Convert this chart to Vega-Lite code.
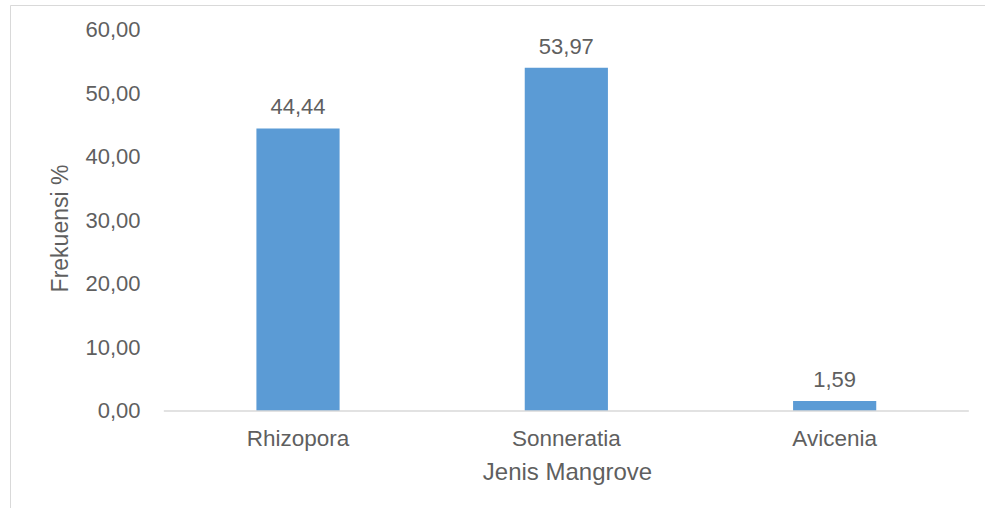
{
  "$schema": "https://vega.github.io/schema/vega-lite/v6.json",
  "width": 978,
  "height": 503,
  "padding": {"left": 10, "top": 5, "right": 0, "bottom": 0},
  "autosize": {"type": "none"},
  "background": "white",
  "config": {
    "view": {"stroke": "#d9d9d9", "strokeWidth": 1},
    "font": "Liberation Sans",
    "locale": {"number": {"decimal": ",", "thousands": ".", "grouping": [3], "currency": ["", ""]}}
  },
  "data": {
    "values": [
      {"jenis": "Rhizopora", "frekuensi": 44.44},
      {"jenis": "Sonneratia", "frekuensi": 53.97},
      {"jenis": "Avicenia", "frekuensi": 1.59}
    ]
  },
  "encoding": {
    "x": {
      "field": "jenis",
      "type": "nominal",
      "sort": null,
      "scale": {"paddingInner": 0.69, "paddingOuter": 0.6674, "align": 0.688},
      "axis": {
        "title": "Jenis Mangrove",
        "orient": "bottom",
        "offset": -97,
        "domain": false,
        "ticks": false,
        "grid": false,
        "labelAngle": 0,
        "labelFontSize": 22.5,
        "labelColor": "#5f5f5f",
        "labelPadding": 16,
        "titleFontSize": 24,
        "titleFontWeight": "normal",
        "titleColor": "#5f5f5f",
        "titlePadding": 11,
        "titleX": 557
      }
    }
  },
  "layer": [
    {
      "mark": {"type": "bar", "color": "#5b9bd5"},
      "encoding": {
        "y": {
          "field": "frekuensi",
          "type": "quantitative",
          "scale": {"domain": [-15.255, 63.85], "nice": false, "zero": false},
          "axis": {
            "title": "Frekuensi %",
            "values": [0, 10, 20, 30, 40, 50, 60],
            "format": ".2f",
            "offset": -130,
            "domain": false,
            "ticks": false,
            "grid": false,
            "labelFontSize": 22,
            "labelColor": "#5f5f5f",
            "labelPadding": 0,
            "titleFontSize": 23,
            "titleFontWeight": "normal",
            "titleColor": "#5f5f5f",
            "titlePadding": 12,
            "titleY": 223
          }
        },
        "y2": {"datum": 0}
      }
    },
    {
      "mark": {"type": "text", "dy": -14, "baseline": "alphabetic", "fontSize": 22, "color": "#5f5f5f"},
      "encoding": {
        "y": {"field": "frekuensi", "type": "quantitative"},
        "text": {"field": "frekuensi", "type": "quantitative", "format": ".2f"}
      }
    },
    {
      "data": {"values": [{"start": "Rhizopora", "end": "Avicenia", "nol": 0}]},
      "mark": {"type": "rule", "color": "#d9d9d9", "strokeWidth": 1.5},
      "encoding": {
        "x": {"field": "start", "type": "nominal", "bandPosition": -1.113},
        "x2": {"field": "end", "bandPosition": 2.113},
        "y": {"field": "nol", "type": "quantitative"}
      }
    }
  ]
}
